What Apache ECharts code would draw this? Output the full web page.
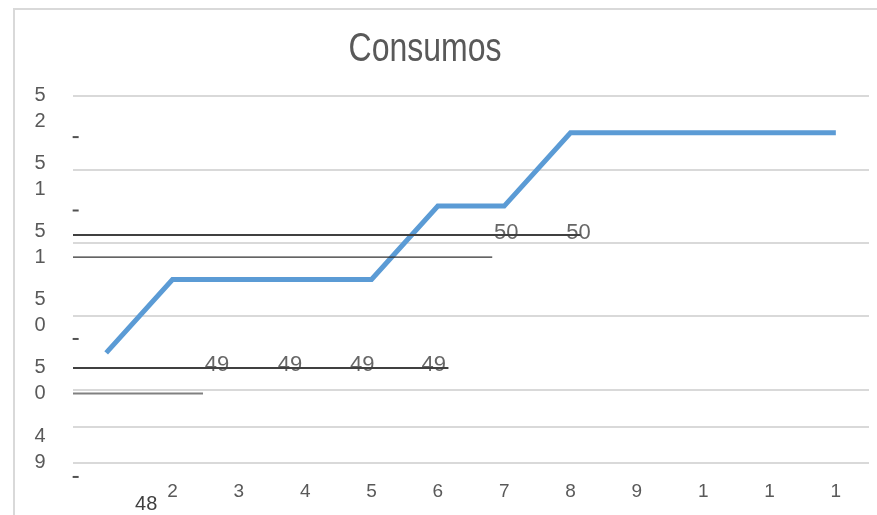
<!DOCTYPE html>
<html><head><meta charset="utf-8">
<script src="https://cdn.jsdelivr.net/npm/echarts@6/dist/echarts.min.js"></script>
<style>html,body{margin:0;padding:0;background:#fff}#c{width:877px;height:515px}</style>
</head><body><div id="c"></div>
<script>
// ---- data ----
const titleText = 'Consumos';
const categories = ['1','2','3','4','5','6','7','8','9','10','11','12'];
const xTickLabels = ['48','2','3','4','5','6','7','8','9','1','1','1'];
const consumos = [50.25, 50.75, 50.75, 50.75, 50.75, 51.25, 51.25, 51.75, 51.75, 51.75, 51.75, 51.75];
const yTickLabels = ['4\n9','5\n0','5\n0','5\n1','5\n1','5\n2'];
const yTickSlots = [0, 1, 2, 3, 4, 5];
const extraGridValues = [49.75];
// stray reference lines (value, end position in category units)
const strayLineY = [51.053, 50.903, 50.147, 49.973];
const strayLineEnd = [7.15, 5.82, 5.16, 1.46];
const strayLineWidth = [2, 1.2, 2, 2];
const strayLineColor = ['#404040', '#303030', '#404040', '#808080'];
// stray value labels
const label49X = [1.67, 2.77, 3.86, 4.94];
const label49Y = 50.168;
const label49Text = '49';
const label50X = [6.03, 7.12];
const label50Y = 51.07;
const label50Text = '50';
// stray dashes
const dashX = -0.46;
const dashY = [51.72, 51.22, 50.345, 49.405];

// ---- chart ----
const chart = echarts.init(document.getElementById('c'), null, {renderer: 'canvas'});
const regular = '"Liberation Sans", Arial, sans-serif';

const series = [];
series.push({
  type: 'line', data: consumos, xAxisIndex: 0, yAxisIndex: 0,
  symbol: 'none', z: 2,
  lineStyle: {color: '#5B9BD5', width: 5, cap: 'butt', join: 'miter'},
  markLine: {
    silent: true, symbol: ['none', 'none'], label: {show: false},
    lineStyle: {color: '#d9d9d9', width: 2, type: 'solid'},
    data: extraGridValues.map(v => ({yAxis: v}))
  }
});
strayLineY.forEach((y, i) => {
  series.push({
    type: 'line', xAxisIndex: 1, yAxisIndex: 0, symbol: 'none', z: 6, clip: false,
    data: [[-0.5, y], [strayLineEnd[i], y]],
    lineStyle: {color: strayLineColor[i], width: strayLineWidth[i]}
  });
});
const textLabelSeries = (xs, y, txt) => ({
  type: 'scatter', xAxisIndex: 1, yAxisIndex: 0, symbolSize: 0, z: 4, clip: false,
  data: xs.map(x => [x, y]),
  label: {show: true, position: 'inside', formatter: txt, color: '#404040',
          fontSize: 22, fontFamily: regular}
});
series.push(textLabelSeries(label49X, label49Y, label49Text));
series.push(textLabelSeries(label50X, label50Y, label50Text));
series.push({
  type: 'scatter', xAxisIndex: 1, yAxisIndex: 0, symbol: 'rect', symbolSize: [6, 2],
  z: 5, clip: false, itemStyle: {color: '#262626'},
  data: dashY.map(y => [dashX, y])
});

chart.setOption({
  animation: false,
  backgroundColor: '#ffffff',
  graphic: [{
    type: 'rect', shape: {x: 14, y: 9, width: 900, height: 560},
    style: {fill: 'none', stroke: '#d9d9d9', lineWidth: 2}, silent: true
  }, {
    type: 'text', x: 425, y: 50, scaleX: 0.8, silent: true,
    style: {text: titleText, font: '40px "Liberation Sans", Arial, sans-serif',
            fill: '#595959', textAlign: 'center', textVerticalAlign: 'middle'}
  }],
  grid: {left: 73, right: 8, top: 96, bottom: 52, containLabel: false, outerBoundsMode: 'none'},
  xAxis: [{
    type: 'category', data: categories, boundaryGap: true,
    axisLine: {show: false}, axisTick: {show: false}, splitLine: {show: false},
    axisLabel: {
      interval: 0, margin: 19, color: '#595959', fontSize: 19, fontFamily: regular,
      formatter: (v, i) => i === 0 ? '{f|' + xTickLabels[0] + '}' : xTickLabels[i],
      rich: {f: {fontSize: 20, fontFamily: regular, color: '#404040', padding: [12, 0, 0, 80]}}
    }
  }, {
    type: 'value', min: -0.5, max: 11.5, show: false
  }],
  yAxis: [{
    type: 'value', min: 49.5, max: 52, interval: 0.5,
    axisLine: {show: false}, axisTick: {show: false}, axisLabel: {show: false},
    splitLine: {show: true, lineStyle: {color: '#d9d9d9', width: 2}}
  }, {
    type: 'value', position: 'left', min: -0.205, max: 5.176, interval: 1,
    axisLine: {show: false}, axisTick: {show: false}, splitLine: {show: false},
    axisLabel: {
      customValues: yTickSlots, margin: 33, color: '#595959', fontSize: 20,
      fontFamily: regular, lineHeight: 26, align: 'center',
      formatter: v => { const i = Math.round(v); return Math.abs(v - i) < 1e-6 && yTickLabels[i] ? yTickLabels[i] : ''; }
    }
  }],
  series: series
});
</script></body></html>
